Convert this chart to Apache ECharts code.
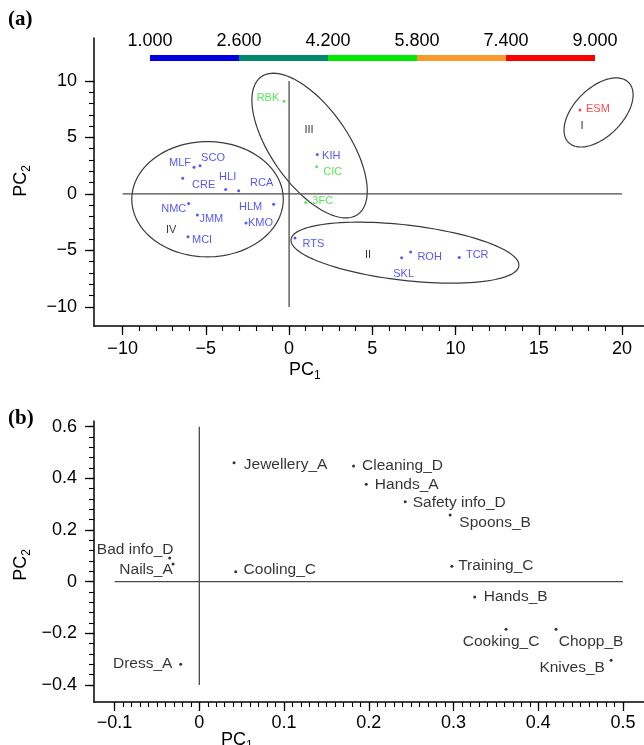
<!DOCTYPE html>
<html><head><meta charset="utf-8">
<script src="https://cdn.jsdelivr.net/npm/echarts@6/dist/echarts.min.js"></script>
<style>html,body{margin:0;padding:0;background:#fff;}#chart{width:644px;height:745px;}</style>
</head><body><div id="chart"></div>
<script>
// ---------- colour bar ----------
const colorbarTicks = [1.0, 2.6, 4.2, 5.8, 7.4, 9.0];
const colorbarColors = ['#0000e0', '#00896a', '#00ea00', '#f69a2d', '#f80000'];

// ---------- panel (a) ----------
const aNames = ['MLF','SCO','CRE','HLI','RCA','HLM','NMC','JMM','KMO','MCI','RBK','KIH','CIC','3FC','RTS','SKL','ROH','TCR','ESM'];
const aPC1  = [-5.71,-5.35,-6.39,-3.81,-3.03,-0.93,-6.03,-5.51,-2.59,-6.07,-0.31,1.69,1.66,1.00,0.35,6.76,7.30,10.22,17.47];
const aPC2  = [2.35,2.49,1.38,0.40,0.28,-0.92,-0.84,-1.87,-2.57,-3.80,8.20,3.50,2.41,-0.75,-3.90,-5.66,-5.15,-5.62,7.43];
const aClass = [0,0,0,0,0,0,0,0,0,0,2,0,2,2,0,0,0,0,4]; // colour-bar segment
const groupNames = ['I','II','III','IV'];
const groupPC1 = [17.6, 4.74, 1.20, -7.09];
const groupPC2 = [6.04, -5.42, 5.66, -3.20];
const ellipseCenterPC1 = [18.59, 6.96, 1.23, -4.90];
const ellipseCenterPC2 = [7.21, -5.20, 4.28, -0.47];
const ellipseSemiPC1 = [2.55, 6.89, 5.05, 4.55];
const ellipseSemiPC2 = [2.14, 2.45, 3.42, 5.10];
const ellipseTilt = [-45, 6.6, 55, 0];
const aHLine = [-10, 20];
const aVLine = [-10, 10];
const aXTicks = [-10,-5,0,5,10,15,20];
const aYTicks = [-10,-5,0,5,10];

// ---------- panel (b) ----------
const bNames = ['Jewellery_A','Cleaning_D','Hands_A','Safety info_D','Spoons_B','Training_C','Hands_B','Cooking_C','Chopp_B','Knives_B','Bad info_D','Nails_A','Cooling_C','Dress_A'];
const bPC1 = [0.041,0.182,0.197,0.243,0.296,0.298,0.325,0.362,0.421,0.486,-0.035,-0.031,0.043,-0.022];
const bPC2 = [0.460,0.448,0.377,0.309,0.258,0.060,-0.059,-0.184,-0.184,-0.304,0.092,0.068,0.038,-0.320];
const bHLine = [-0.1, 0.5];
const bVLine = [-0.4, 0.6];
const bXTicks = [-0.1,0,0.1,0.2,0.3,0.4,0.5];
const bYTicks = [-0.4,-0.2,0,0.2,0.4,0.6];

// ---------- layout / style (not data) ----------
const aLabelOffset = {MLF:[-14,-4],SCO:[13,-8],CRE:[21,7],HLI:[2,-12],RCA:[23,-8],HLM:[-23,3],NMC:[-15,6],JMM:[14,4],KMO:[14.5,0],MCI:[14,3],RBK:[-16,-3],KIH:[14,2],CIC:[16,5],'3FC':[17,-1],RTS:[18.5,5.5],SKL:[2,16],ROH:[19,5],TCR:[18,-2],ESM:[18,-1]};
const bLabelOffset = {'Jewellery_A':[51.5,2],'Cleaning_D':[49,0],'Hands_A':[40.5,0],'Safety info_D':[54,1],'Spoons_B':[45,8],'Training_C':[44,0],'Hands_B':[41,0],'Cooking_C':[-5,13],'Chopp_B':[35,13],'Knives_B':[-39,8],'Bad info_D':[-34.5,-8],'Nails_A':[-27,6],'Cooling_C':[44,-2],'Dress_A':[-38,-1]};
const classLabelColor = ['#2d2df5','#00896a','#2ee02e','#f69a2d','#f01e1e'];
const FONT = '"Liberation Sans", Arial, Helvetica, sans-serif';

function fmt(v){ return String(Math.round(v*1000)/1000).replace('-', '\u2212'); }
function rng(a,b,step,div){ const r=[]; for(let i=a;i<=b;i+=step) r.push(i/div); return r; }

function majorAxis(grid, min, max, ticks, pos, margin){
  return {type:'value', gridIndex:grid, min:min, max:max, position:pos,
    axisLine:{show:true, onZero:false, lineStyle:{color:'#000', width:1.5}},
    axisTick:{show:true, customValues:ticks, length:9, lineStyle:{color:'#000', width:1.3}},
    axisLabel:{show:true, customValues:ticks, formatter:fmt, fontSize:18, fontFamily:FONT, color:'#000', margin:margin},
    splitLine:{show:false}};
}
function minorAxis(grid, min, max, ticks, pos){
  return {type:'value', gridIndex:grid, min:min, max:max, position:pos,
    axisLine:{show:false, onZero:false},
    axisTick:{show:true, customValues:ticks, length:5, lineStyle:{color:'#000', width:1.1}},
    axisLabel:{show:false}, splitLine:{show:false}};
}

function ellipseRender(params, api){
  const c = api.coord([api.value(0), api.value(1)]);
  const s = api.size([api.value(2), api.value(3)]);
  const th = api.value(4)*Math.PI/180;
  const pts = [];
  for(let k=0;k<=120;k++){
    const t = k/120*2*Math.PI;
    const ex = s[0]*Math.cos(t), ey = s[1]*Math.sin(t);
    pts.push([c[0]+ex*Math.cos(th)-ey*Math.sin(th), c[1]+ex*Math.sin(th)+ey*Math.cos(th)]);
  }
  return {type:'polyline', shape:{points:pts}, style:{stroke:'#3a3a3a', lineWidth:1.2, fill:null}};
}

const cbData = colorbarColors.map((c,i)=>[colorbarTicks[i], colorbarTicks[i+1], i]);
const ellipseData = groupNames.map((g,i)=>[ellipseCenterPC1[i], ellipseCenterPC2[i], ellipseSemiPC1[i], ellipseSemiPC2[i], ellipseTilt[i]]);

const aPoints = aNames.map((n,i)=>({name:n, value:[aPC1[i], aPC2[i]],
  itemStyle:{color:classLabelColor[aClass[i]]},
  label:{color:classLabelColor[aClass[i]], offset:aLabelOffset[n]}}));
const bPoints = bNames.map((n,i)=>({name:n, value:[bPC1[i], bPC2[i]], label:{offset:bLabelOffset[n]}}));
const groupPoints = groupNames.map((n,i)=>({name:n, value:[groupPC1[i], groupPC2[i]]}));

const lineStyle = {color:'#4a4a4a', width:1.3};
const sub = {m:{fontSize:18, fontFamily:FONT, lineHeight:24, color:'#000'}, s:{fontSize:12, fontFamily:FONT, lineHeight:12, verticalAlign:'bottom', color:'#000'}};

const chart = echarts.init(document.getElementById('chart'), null, {renderer:'canvas'});
chart.setOption({
  animation:false,
  backgroundColor:'#fff',
  grid:[
    {left:150, top:55, width:445, height:6},
    {left:94, top:38, right:0, height:288},
    {left:94, top:421, right:0, height:281}
  ],
  xAxis:[
    {type:'value', gridIndex:0, min:1, max:9, position:'top',
      axisLine:{show:false}, axisTick:{show:false}, splitLine:{show:false},
      axisLabel:{customValues:colorbarTicks, formatter:v=>v.toFixed(3), fontSize:18, fontFamily:FONT, color:'#000', margin:5}},
    majorAxis(1, -11.72, 21.32, aXTicks, 'bottom', 14),
    minorAxis(1, -11.72, 21.32, rng(-10,20,1,1), 'bottom'),
    majorAxis(2, -0.1243, 0.5248, bXTicks, 'bottom', 12),
    minorAxis(2, -0.1243, 0.5248, rng(-10,50,1,100), 'bottom')
  ],
  yAxis:[
    {type:'value', gridIndex:0, min:0, max:1, show:false},
    majorAxis(1, -11.69, 13.8, aYTicks, 'left', 17),
    minorAxis(1, -11.69, 13.8, rng(-10,10,1,1), 'left'),
    majorAxis(2, -0.466, 0.622, bYTicks, 'left', 17),
    minorAxis(2, -0.466, 0.622, rng(-10,15,1,25), 'left')
  ],
  graphic:[
    {type:'text', x:8, y:20, style:{text:'(a)', font:'bold 21px "Liberation Serif", "Times New Roman", serif', fill:'#000', verticalAlign:'middle'}},
    {type:'text', x:8, y:419, style:{text:'(b)', font:'bold 21px "Liberation Serif", "Times New Roman", serif', fill:'#000', verticalAlign:'middle'}},
    {type:'text', x:289, y:370, style:{text:'{m|PC}{s|1}', verticalAlign:'middle', rich:sub}},
    {type:'text', x:221, y:740, style:{text:'{m|PC}{s|1}', verticalAlign:'middle', rich:sub}},
    {type:'text', x:21, y:181, rotation:Math.PI/2, style:{text:'{m|PC}{s|2}', align:'center', verticalAlign:'middle', rich:sub}},
    {type:'text', x:21, y:565, rotation:Math.PI/2, style:{text:'{m|PC}{s|2}', align:'center', verticalAlign:'middle', rich:sub}}
  ],
  series:[
    {type:'custom', xAxisIndex:0, yAxisIndex:0, data:cbData, renderItem:function(params, api){
      const p0 = api.coord([api.value(0), 1]);
      const p1 = api.coord([api.value(1), 0]);
      return {type:'rect', shape:{x:p0[0], y:p0[1], width:p1[0]-p0[0], height:p1[1]-p0[1]}, style:{fill:colorbarColors[api.value(2)]}};
    }},
    {type:'line', xAxisIndex:1, yAxisIndex:1, data:[[aHLine[0],0],[aHLine[1],0]], showSymbol:false, lineStyle:lineStyle, silent:true},
    {type:'line', xAxisIndex:1, yAxisIndex:1, data:[[0,aVLine[0]],[0,aVLine[1]]], showSymbol:false, lineStyle:lineStyle, silent:true},
    {type:'custom', xAxisIndex:1, yAxisIndex:1, data:ellipseData, renderItem:ellipseRender, clip:false, silent:true},
    {type:'scatter', xAxisIndex:1, yAxisIndex:1, data:aPoints, symbolSize:3,
      label:{show:true, position:'inside', formatter:'{b}', fontSize:11, fontFamily:FONT}},
    {type:'scatter', xAxisIndex:1, yAxisIndex:1, data:groupPoints, symbolSize:0,
      label:{show:true, position:'inside', formatter:'{b}', fontSize:11, fontFamily:FONT, color:'#000'}},
    {type:'line', xAxisIndex:3, yAxisIndex:3, data:[[bHLine[0],0],[bHLine[1],0]], showSymbol:false, lineStyle:lineStyle, silent:true},
    {type:'line', xAxisIndex:3, yAxisIndex:3, data:[[0,bVLine[0]],[0,bVLine[1]]], showSymbol:false, lineStyle:lineStyle, silent:true},
    {type:'scatter', xAxisIndex:3, yAxisIndex:3, data:bPoints, symbolSize:3, itemStyle:{color:'#000'},
      label:{show:true, position:'inside', formatter:'{b}', fontSize:15.5, fontFamily:FONT, color:'#000'}}
  ]
});
</script></body></html>
